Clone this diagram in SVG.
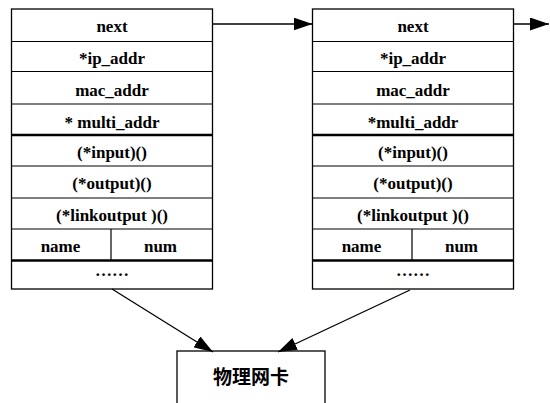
<svg xmlns="http://www.w3.org/2000/svg" width="550" height="403" viewBox="0 0 550 403">
  <style>
    .frame { fill: #fff; stroke: #000; stroke-width: 1.3; }
    .rule { stroke: #000; stroke-width: 1.2; }
    .heavy { stroke: #000; stroke-width: 2.6; }
    .link { stroke: #000; stroke-width: 1.3; fill: none; marker-end: url(#head); }
  </style>
  <defs>
    <marker id="head" markerUnits="userSpaceOnUse" markerWidth="19" markerHeight="13" refX="19" refY="6.5" orient="auto">
      <path d="M0,0 L19,6.5 L0,13 z" fill="#000"/>
    </marker>
  </defs>

  <!-- first netif structure -->
  <g id="netif-1" transform="translate(11.5,9)">
    <rect class="frame" x="0" y="0" width="201" height="280"/>
    <line class="rule" x1="0" y1="32.5" x2="201" y2="32.5"/>
    <line class="rule" x1="0" y1="62.5" x2="201" y2="62.5"/>
    <line class="rule" x1="0" y1="95" x2="201" y2="95"/>
    <line class="heavy" x1="0" y1="126" x2="201" y2="126"/>
    <line class="rule" x1="0" y1="157" x2="201" y2="157"/>
    <line class="rule" x1="0" y1="189" x2="201" y2="189"/>
    <line class="rule" x1="0" y1="220" x2="201" y2="220"/>
    <line class="heavy" x1="0" y1="251.5" x2="201" y2="251.5"/>
    <line class="rule" x1="99.5" y1="220" x2="99.5" y2="251.5"/>
    <g font-family="Liberation Serif, Times New Roman, serif" font-size="17" font-weight="bold" text-anchor="middle" fill="#000">
      <text x="100.5" y="22.5">next</text>
      <text x="100.5" y="54.5">*ip_addr</text>
      <text x="100.5" y="87">mac_addr</text>
      <text x="100.5" y="118.5">* multi_addr</text>
      <text x="100.5" y="149">(*input)()</text>
      <text x="100.5" y="180">(*output)()</text>
      <text x="100.5" y="212">(*linkoutput )()</text>
      <text x="49" y="243">name</text>
      <text x="149" y="243">num</text>
      <text x="100.5" y="267">……</text>
    </g>
  </g>

  <!-- second netif structure -->
  <g id="netif-2" transform="translate(312.5,9)">
    <rect class="frame" x="0" y="0" width="201" height="280"/>
    <line class="rule" x1="0" y1="32.5" x2="201" y2="32.5"/>
    <line class="rule" x1="0" y1="62.5" x2="201" y2="62.5"/>
    <line class="rule" x1="0" y1="95" x2="201" y2="95"/>
    <line class="heavy" x1="0" y1="126" x2="201" y2="126"/>
    <line class="rule" x1="0" y1="157" x2="201" y2="157"/>
    <line class="rule" x1="0" y1="189" x2="201" y2="189"/>
    <line class="rule" x1="0" y1="220" x2="201" y2="220"/>
    <line class="heavy" x1="0" y1="251.5" x2="201" y2="251.5"/>
    <line class="rule" x1="99.5" y1="220" x2="99.5" y2="251.5"/>
    <g font-family="Liberation Serif, Times New Roman, serif" font-size="17" font-weight="bold" text-anchor="middle" fill="#000">
      <text x="100.5" y="22.5">next</text>
      <text x="100.5" y="54.5">*ip_addr</text>
      <text x="100.5" y="87">mac_addr</text>
      <text x="100.5" y="118.5">*multi_addr</text>
      <text x="100.5" y="149">(*input)()</text>
      <text x="100.5" y="180">(*output)()</text>
      <text x="100.5" y="212">(*linkoutput )()</text>
      <text x="49" y="243">name</text>
      <text x="149" y="243">num</text>
      <text x="100.5" y="267">……</text>
    </g>
  </g>

  <!-- physical network card -->
  <g id="nic">
    <rect class="frame" x="177" y="351" width="148" height="60"/>
    <text x="251" y="384" font-family="Noto Sans CJK SC, sans-serif" font-size="19" font-weight="bold" text-anchor="middle" fill="#000">物理网卡</text>
  </g>

  <g id="connectors">
    <line class="link" x1="212.5" y1="24" x2="312.5" y2="24"/>
    <line class="link" x1="513.5" y1="24" x2="549" y2="24"/>
    <line class="link" x1="112" y1="289" x2="213" y2="352"/>
    <line class="link" x1="410" y1="290" x2="278" y2="352"/>
  </g>
</svg>
